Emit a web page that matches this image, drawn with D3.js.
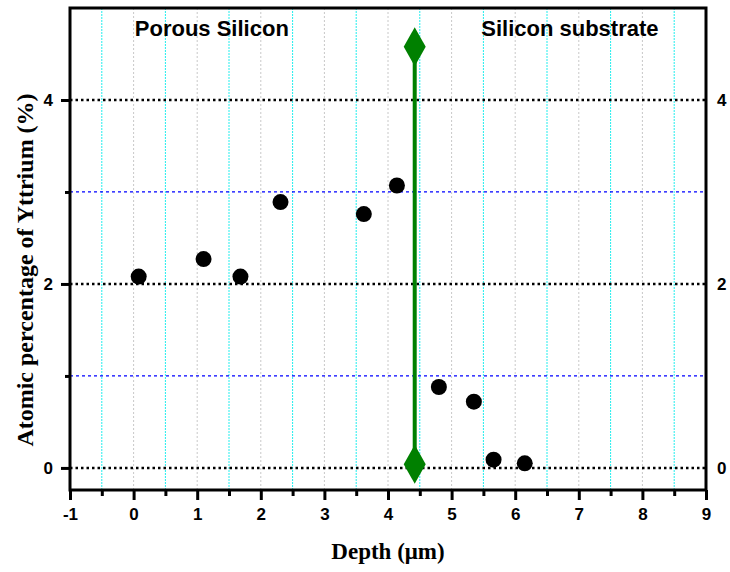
<!DOCTYPE html>
<html>
<head>
<meta charset="utf-8">
<script src="https://cdn.jsdelivr.net/npm/d3@7"></script>
<style>
  html, body { margin: 0; padding: 0; background: #fff; }
  svg { display: block; }
  .tick text { font-family: "Liberation Sans", Arial, sans-serif; font-weight: bold; font-size: 17px; fill: #000; }
</style>
</head>
<body>
<svg id="chart" width="730" height="572"></svg>
<script>
// Depth profile of yttrium (EDX), porous silicon layer and substrate
const depth   = [0.08, 1.10, 1.68, 2.31, 3.62, 4.14, 4.80, 5.35, 5.66, 6.15];
const yttrium = [2.08, 2.27, 2.08, 2.89, 2.76, 3.07, 0.88, 0.72, 0.09, 0.05];

// interface between porous layer and substrate
const interfaceDepth = 4.42;
const interfaceEnds = [0.04, 4.58];

const xMajorTicks = [-1, 0, 1, 2, 3, 4, 5, 6, 7, 8, 9];
const xMinorTicks = [-0.5, 0.5, 1.5, 2.5, 3.5, 4.5, 5.5, 6.5, 7.5, 8.5];
const yMajorTicks = [0, 2, 4];
const yMinorTicks = [1, 3];

const regionLabels = ["Porous Silicon", "Silicon substrate"];
const regionCenters = [1.23, 6.86];

const xTitle = "Depth (\u03bcm)";
const yTitle = "Atomic percentage of Yttrium (%)";

const margin = { left: 70, top: 8, right: 24, bottom: 82 };
const W = 730, H = 572;
const x0 = margin.left, x1 = W - margin.right, y0 = margin.top, y1 = H - margin.bottom;

const x = d3.scaleLinear().domain([-1, 9]).range([x0, x1]);
const y = d3.scaleLinear().domain([-0.24, 5]).range([y1, y0]);

const svg = d3.select("#chart");
const plainNumber = d => String(d);

// vertical grid
const grid = svg.append("g");
grid.selectAll(".vmaj").data(xMajorTicks.slice(1, -1)).join("line")
  .attr("x1", d => x(d)).attr("x2", d => x(d)).attr("y1", y0).attr("y2", y1)
  .attr("stroke", "#c8c8c8").attr("stroke-width", 1).attr("stroke-dasharray", "2,2");
grid.selectAll(".vmin").data(xMinorTicks).join("line")
  .attr("x1", d => x(d)).attr("x2", d => x(d)).attr("y1", y0).attr("y2", y1)
  .attr("stroke", "#22eeee").attr("stroke-width", 1).attr("stroke-dasharray", "2,1");

// horizontal grid
grid.selectAll(".hmin").data(yMinorTicks).join("line")
  .attr("x1", x0).attr("x2", x1).attr("y1", d => y(d)).attr("y2", d => y(d))
  .attr("stroke", "#0000ff").attr("stroke-width", 1.3).attr("stroke-dasharray", "3,3");
grid.selectAll(".hmaj").data(yMajorTicks).join("line")
  .attr("x1", x0).attr("x2", x1).attr("y1", d => y(d)).attr("y2", d => y(d))
  .attr("stroke", "#000").attr("stroke-width", 2.5).attr("stroke-dasharray", "2.5,3");

// axes
function styleAxis(g) {
  g.select(".domain").remove();
  g.selectAll(".tick line").attr("stroke", "#000").attr("stroke-width", 3);
}
svg.append("g").attr("transform", `translate(0,${y1})`)
  .call(d3.axisBottom(x).tickValues(xMinorTicks).tickSize(6).tickFormat(""))
  .call(styleAxis);
svg.append("g").attr("transform", `translate(0,${y1})`)
  .call(d3.axisBottom(x).tickValues(xMajorTicks).tickSize(10).tickPadding(8).tickFormat(plainNumber))
  .call(styleAxis);
svg.append("g").attr("transform", `translate(${x0},0)`)
  .call(d3.axisLeft(y).tickValues(yMinorTicks).tickSize(5).tickFormat(""))
  .call(styleAxis);
svg.append("g").attr("transform", `translate(${x0},0)`)
  .call(d3.axisLeft(y).tickValues(yMajorTicks).tickSize(9).tickPadding(8).tickFormat(plainNumber))
  .call(styleAxis);
svg.append("g").attr("transform", `translate(${x1},0)`)
  .call(d3.axisRight(y).tickValues(yMajorTicks).tickSize(0).tickPadding(11).tickFormat(plainNumber))
  .call(styleAxis);

// frame
svg.append("rect").attr("x", x0).attr("y", y0).attr("width", x1 - x0).attr("height", y1 - y0)
  .attr("fill", "none").attr("stroke", "#000").attr("stroke-width", 3);

// interface marker
svg.append("line")
  .attr("x1", x(interfaceDepth)).attr("x2", x(interfaceDepth))
  .attr("y1", y(interfaceEnds[0])).attr("y2", y(interfaceEnds[1]))
  .attr("stroke", "#008000").attr("stroke-width", 4);
const diamond = "M0,-19.5L11,0L0,19.5L-11,0Z";
svg.selectAll(".dia").data(interfaceEnds).join("path")
  .attr("d", diamond)
  .attr("transform", d => `translate(${x(interfaceDepth)},${y(d)})`)
  .attr("fill", "#008000");

// data points
svg.selectAll(".pt").data(depth).join("circle")
  .attr("cx", d => x(d)).attr("cy", (d, i) => y(yttrium[i])).attr("r", 8)
  .attr("fill", "#000");

// region labels
svg.selectAll(".region").data(regionLabels).join("text")
  .attr("x", (d, i) => x(regionCenters[i])).attr("y", 36)
  .attr("text-anchor", "middle")
  .attr("font-family", "Liberation Sans, Arial, sans-serif").attr("font-weight", "bold").attr("font-size", 22)
  .text(d => d);

// axis titles
svg.append("text").attr("x", (x0 + x1) / 2).attr("y", 559)
  .attr("text-anchor", "middle")
  .attr("font-family", "Liberation Serif, Times New Roman, serif").attr("font-weight", "bold").attr("font-size", 23)
  .text(xTitle);
svg.append("text").attr("transform", "translate(33,270) rotate(-90)")
  .attr("text-anchor", "middle")
  .attr("font-family", "Liberation Serif, Times New Roman, serif").attr("font-weight", "bold").attr("font-size", 24)
  .text(yTitle);
</script>
</body>
</html>
